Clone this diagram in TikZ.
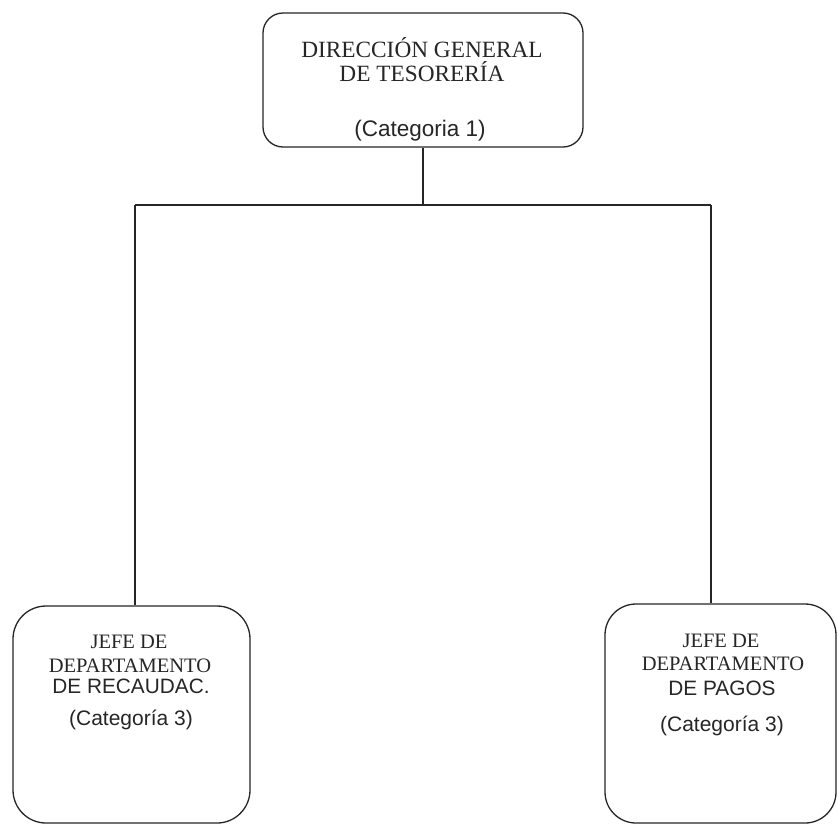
\documentclass[tikz,border=0pt]{standalone}
\usepackage{fontspec}
\setmainfont{Liberation Serif}
\setsansfont{Liberation Sans}
\begin{document}
\begin{tikzpicture}[x=1pt,y=-1pt,
  ink/.style={black!85},
  box/.style={draw=black!85, line width=1.3pt, rectangle, inner sep=0pt},
  conn/.style={draw=black!85, line width=1.3pt},
  sertext/.style={anchor=base, text=black!85, inner sep=0pt, font=\fontsize{#1}{#1}\selectfont},
  santext/.style={anchor=base, text=black!85, inner sep=0pt, font=\sffamily\fontsize{#1}{#1}\selectfont}]
\useasboundingbox (0,0) rectangle (837,825);
\clip (0,0) rectangle (837,825);
\fill[white] (0,0) rectangle (837,825);

% boxes
\node[box, rounded corners=20pt, minimum width=320pt, minimum height=134pt] (top) at (423,80) {};
\node[box, rounded corners=33pt, minimum width=237pt, minimum height=217pt] (lbox) at (131.5,714.5) {};
\node[box, rounded corners=31pt, minimum width=231pt, minimum height=219pt] (rbox) at (720.5,713.5) {};

% texts top
\node[sertext=23.3] (t1) at (422,57) {DIRECCIÓN GENERAL};
\node[sertext=23.3] (t2) at (422,81) {DE TESORERÍA};
\node[santext=22.5] (t3) at (420,136) {(Categoria 1)};

% texts left
\node[sertext=20.5] (l1) at (129,648) {JEFE DE};
\node[sertext=20.5] (l2) at (130,672) {DEPARTAMENTO};
\node[santext=20.8] (l3) at (131,693) {DE RECAUDAC.};
\node[santext=21] (l4) at (131,725) {(Categoría 3)};

% texts right
\node[sertext=20.5] (r1) at (721,647) {JEFE DE};
\node[sertext=20.5] (r2) at (723,670) {DEPARTAMENTO};
\node[santext=20.8] (r3) at (722,695) {DE PAGOS};
\node[santext=21] (r4) at (722,731) {(Categoría 3)};

% connectors
\coordinate (bus) at (423,205);
\coordinate (bl) at (135,205);
\coordinate (br) at (711,205);
\draw[conn] (top.south) -- (bus);
\draw[conn] (bl) -- (br);
\draw[conn] (bl) -- (bl |- lbox.north);
\draw[conn] (br) -- (br |- rbox.north);
\end{tikzpicture}
\end{document}
